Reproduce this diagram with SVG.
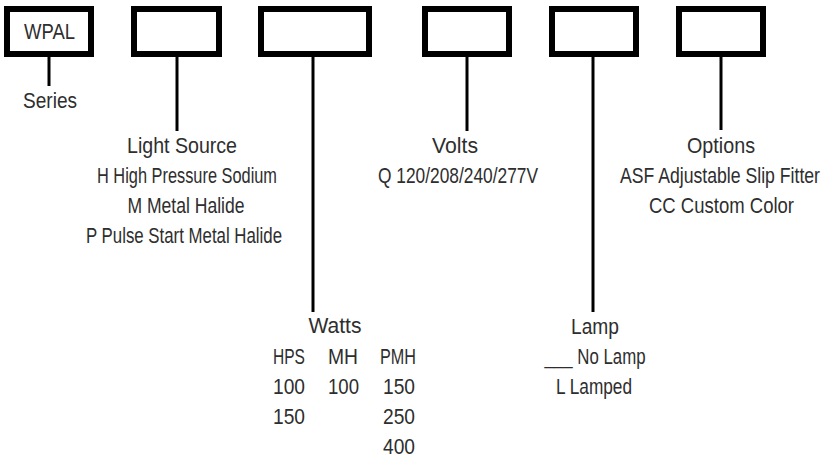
<svg xmlns="http://www.w3.org/2000/svg" width="827" height="458" viewBox="0 0 827 458">
<style>
.box{fill:#fff;stroke:#000;stroke-width:6}
.ln{stroke:#000;stroke-width:3;fill:none}
text{font-family:"Liberation Sans","DejaVu Sans",sans-serif;font-size:22px;fill:#2e2e2e;text-anchor:middle}
.l{text-anchor:start}
</style>
<rect x="0" y="0" width="827" height="458" fill="#fff"/>
<g id="connectors">
<line class="ln" x1="49" y1="57" x2="49" y2="86"/>
<line class="ln" x1="177" y1="57" x2="177" y2="131"/>
<line class="ln" x1="313" y1="57" x2="313" y2="312"/>
<line class="ln" x1="467" y1="57" x2="467" y2="131"/>
<line class="ln" x1="593" y1="57" x2="593" y2="312"/>
<line class="ln" x1="721" y1="57" x2="721" y2="130"/>
</g>
<g id="series">
<rect class="box" x="7" y="9" width="84" height="45"/>
<text x="49.5" y="39" textLength="51" lengthAdjust="spacingAndGlyphs">WPAL</text>
<text x="50" y="108" textLength="54" lengthAdjust="spacingAndGlyphs">Series</text>
</g>
<g id="lightsource">
<rect class="box" x="134" y="9" width="85" height="45"/>
<text x="182" y="153" textLength="110" lengthAdjust="spacingAndGlyphs">Light Source</text>
<text x="187" y="183" textLength="180" lengthAdjust="spacingAndGlyphs">H High Pressure Sodium</text>
<text x="186" y="213" textLength="117" lengthAdjust="spacingAndGlyphs">M Metal Halide</text>
<text x="184" y="243" textLength="196" lengthAdjust="spacingAndGlyphs">P Pulse Start Metal Halide</text>
</g>
<g id="watts">
<rect class="box" x="261" y="9" width="108" height="45"/>
<text x="335" y="333" textLength="53" lengthAdjust="spacingAndGlyphs">Watts</text>
<text class="l" x="273" y="364" textLength="32" lengthAdjust="spacingAndGlyphs">HPS</text>
<text class="l" x="328" y="364" textLength="30" lengthAdjust="spacingAndGlyphs">MH</text>
<text class="l" x="380" y="364" textLength="36" lengthAdjust="spacingAndGlyphs">PMH</text>
<text class="l" x="273" y="394" textLength="32" lengthAdjust="spacingAndGlyphs">100</text>
<text class="l" x="328" y="394" textLength="31" lengthAdjust="spacingAndGlyphs">100</text>
<text class="l" x="383" y="394" textLength="32" lengthAdjust="spacingAndGlyphs">150</text>
<text class="l" x="273" y="424" textLength="32" lengthAdjust="spacingAndGlyphs">150</text>
<text class="l" x="383" y="424" textLength="32" lengthAdjust="spacingAndGlyphs">250</text>
<text class="l" x="383" y="454" textLength="32" lengthAdjust="spacingAndGlyphs">400</text>
</g>
<g id="volts">
<rect class="box" x="425" y="9" width="84" height="45"/>
<text x="455" y="153" textLength="46" lengthAdjust="spacingAndGlyphs">Volts</text>
<text x="458" y="183" textLength="160" lengthAdjust="spacingAndGlyphs">Q 120/208/240/277V</text>
</g>
<g id="lamp">
<rect class="box" x="552" y="9" width="84" height="45"/>
<text x="595" y="334" textLength="48" lengthAdjust="spacingAndGlyphs">Lamp</text>
<text x="595" y="364" textLength="101" lengthAdjust="spacingAndGlyphs">___ No Lamp</text>
<text x="594" y="394" textLength="76" lengthAdjust="spacingAndGlyphs">L Lamped</text>
</g>
<g id="options">
<rect class="box" x="679" y="9" width="84" height="45"/>
<text x="721" y="153" textLength="68" lengthAdjust="spacingAndGlyphs">Options</text>
<text x="720" y="183" textLength="200" lengthAdjust="spacingAndGlyphs">ASF Adjustable Slip Fitter</text>
<text x="721.5" y="213" textLength="145" lengthAdjust="spacingAndGlyphs">CC Custom Color</text>
</g>
</svg>
